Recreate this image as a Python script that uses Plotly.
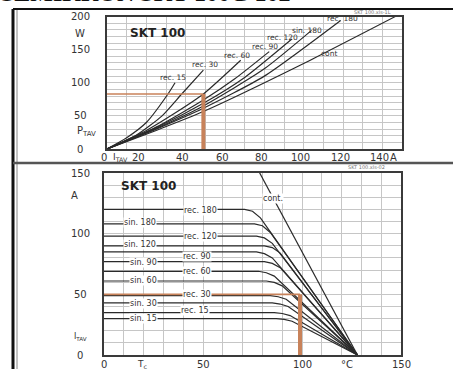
import plotly.graph_objects as go

W, H = 453, 369
def px(x):
    return x / W
def py(y):
    return 1 - y / H

# ---------------- data: top chart (P_TAV vs I_TAV) ----------------
top_x_ticks = [0, 20, 40, 60, 80, 100, 120, 140]
top_y_ticks = [0, 50, 100, 150, 200]

rec15_I = [0, 10, 20, 31, 34.6];        rec15_P = [0, 17, 40, 83, 100]
rec30_I = [0, 15, 28, 38, 49];          rec30_P = [0, 21, 50, 83, 119]
rec60_I = [0, 20, 35, 49, 68];          rec60_P = [0, 28, 55, 83, 134]
rec90_I = [0, 25, 49, 65, 82.5];        rec90_P = [0, 33, 74, 106, 147]
rec120_I = [0, 25, 49, 70, 94];         rec120_P = [0, 32, 69, 108, 166]
sin180_I = [0, 25, 49, 80, 104];        sin180_P = [0, 31, 65, 121, 179]
rec180_I = [0, 25, 49, 80, 118.8];      rec180_P = [0, 30, 61.5, 110, 194]
cont_I = [0, 25, 49, 100, 147.3];       cont_P = [0, 28, 56.5, 129, 201]
top_names = ["rec. 15", "rec. 30", "rec. 60", "rec. 90", "rec. 120", "sin. 180", "rec. 180", "cont"]
top_series = [(rec15_I, rec15_P), (rec30_I, rec30_P), (rec60_I, rec60_P), (rec90_I, rec90_P),
              (rec120_I, rec120_P), (sin180_I, sin180_P), (rec180_I, rec180_P), (cont_I, cont_P)]
top_orange_I = 49
top_orange_P = 83

# ---------------- data: bottom chart (I_TAV vs T_c) ----------------
bot_x_ticks = [0, 50, 100, 150]
bot_y_ticks = [0, 50, 100, 150]

b_rec180_T = [0, 71, 75, 79, 128];  b_rec180_I = [120, 120, 118.5, 113, 0]
b_sin180_T = [0, 76, 80, 84, 128];  b_sin180_I = [108, 108, 106.5, 101, 0]
b_rec120_T = [0, 77, 81, 85, 128];  b_rec120_I = [98, 98, 96.5, 92, 0]
b_sin120_T = [0, 81, 85, 89, 128];  b_sin120_I = [90, 90, 88.5, 84, 0]
b_rec90_T = [0, 77, 81, 85, 128];   b_rec90_I = [85, 85, 83.5, 80, 0]
b_sin90_T = [0, 81, 85, 89, 128];   b_sin90_I = [77, 77, 75.5, 72, 0]
b_rec60_T = [0, 78, 82, 86, 128];   b_rec60_I = [69, 69, 67.8, 65, 0]
b_sin60_T = [0, 82, 86, 90, 128];   b_sin60_I = [61, 61, 59.8, 57, 0]
b_rec30_T = [0, 84, 88, 92, 128];   b_rec30_I = [49, 49, 48, 46, 0]
b_sin30_T = [0, 85, 89, 93, 128];   b_sin30_I = [43, 43, 42, 40, 0]
b_rec15_T = [0, 86, 90, 94, 128];   b_rec15_I = [35, 35, 34.2, 32.5, 0]
b_sin15_T = [0, 87, 91, 95, 128];   b_sin15_I = [30, 30, 29.3, 27.8, 0]
b_cont_T = [77, 128];               b_cont_I = [155, 0]
bot_series = [(b_rec180_T, b_rec180_I), (b_sin180_T, b_sin180_I), (b_rec120_T, b_rec120_I),
              (b_sin120_T, b_sin120_I), (b_rec90_T, b_rec90_I), (b_sin90_T, b_sin90_I),
              (b_rec60_T, b_rec60_I), (b_sin60_T, b_sin60_I), (b_rec30_T, b_rec30_I),
              (b_sin30_T, b_sin30_I), (b_rec15_T, b_rec15_I), (b_sin15_T, b_sin15_I),
              (b_cont_T, b_cont_I)]
bot_orange_T = 99
bot_orange_I = 50

FONT = "DejaVu Sans"
LINE = "#2a2a2a"
ORANGE = "#c8825a"
GRID = "#c6c6c6"

fig = go.Figure()

for xs, ys in top_series:
    fig.add_trace(go.Scatter(x=xs, y=ys, mode="lines", line=dict(color=LINE, width=1.2, shape="spline", smoothing=0.6),
                             xaxis="x", yaxis="y", showlegend=False, hoverinfo="skip"))
fig.add_trace(go.Scatter(x=[-2, top_orange_I], y=[top_orange_P, top_orange_P], mode="lines",
                         line=dict(color=ORANGE, width=1.6), xaxis="x", yaxis="y", showlegend=False, cliponaxis=False))
fig.add_trace(go.Scatter(x=[top_orange_I, top_orange_I], y=[top_orange_P, 0], mode="lines",
                         line=dict(color=ORANGE, width=4), xaxis="x", yaxis="y", showlegend=False))

for xs, ys in bot_series:
    fig.add_trace(go.Scatter(x=xs, y=ys, mode="lines", line=dict(color=LINE, width=1.2),
                             xaxis="x2", yaxis="y2", showlegend=False, hoverinfo="skip"))
fig.add_trace(go.Scatter(x=[0, bot_orange_T], y=[bot_orange_I, bot_orange_I], mode="lines",
                         line=dict(color=ORANGE, width=1.6), xaxis="x2", yaxis="y2", showlegend=False))
fig.add_trace(go.Scatter(x=[bot_orange_T, bot_orange_T], y=[bot_orange_I, 0], mode="lines",
                         line=dict(color=ORANGE, width=4), xaxis="x2", yaxis="y2", showlegend=False))

axis_common = dict(showticklabels=False, ticks="", gridcolor=GRID, gridwidth=1, zeroline=False,
                   showline=True, mirror=True, linecolor="#3a3a3a", linewidth=1.5)

fig.update_layout(
    width=W, height=H, margin=dict(l=0, r=0, t=0, b=0),
    paper_bgcolor="white", plot_bgcolor="white",
    xaxis=dict(domain=[px(107), px(402)], range=[0, 150], tickvals=list(range(0, 151, 10)), anchor="y", **axis_common),
    yaxis=dict(domain=[py(149), py(16.5)], range=[0, 200], tickvals=list(range(0, 201, 10)), anchor="x", **axis_common),
    xaxis2=dict(domain=[px(104), px(401)], range=[0, 150], tickvals=list(range(0, 151, 10)), anchor="y2", **axis_common),
    yaxis2=dict(domain=[py(355), py(173)], range=[0, 150], tickvals=list(range(0, 151, 10)), anchor="x2", **axis_common),
)

ann = []
def txt(x, y, s, size=10, color="#333", xref="paper", yref="paper", bg=None, xanchor="center", bold=False, **kw):
    d = dict(x=x, y=y, xref=xref, yref=yref, text=(f"<b>{s}</b>" if bold else s), showarrow=False,
             font=dict(family=FONT, size=size, color=color), xanchor=xanchor, yanchor="middle", borderpad=0)
    if bg:
        d["bgcolor"] = bg
    d.update(kw)
    ann.append(d)

# top chart tick labels
for v in top_y_ticks:
    txt(px(80), v, str(v), yref="y")
for v in top_x_ticks:
    shift = -3 if v != 20 else -8
    txt(v, py(157), str(v), xref="x", xshift=shift)
txt(px(120), py(157), "I<sub>TAV</sub>", size=9)
txt(px(393), py(157), "A")
txt(px(80), py(33), "W")
txt(px(86), py(131), "P<sub>TAV</sub>", size=10)
txt(px(157), py(33), "SKT 100", size=12, color="#222", bold=True)
txt(px(372), py(12), "SKT 100.xls-1L", size=5, color="#777")

top_label_pos = [(173, 77), (205, 64), (237, 55), (265, 46), (282, 37), (307, 30), (342, 19), (329, 53)]
for name, (x, y) in zip(top_names, top_label_pos):
    txt(px(x), py(y), name, size=7.5)

# bottom chart tick labels
for v in bot_y_ticks:
    txt(px(80), v, str(v), yref="y2")
for v in bot_x_ticks:
    txt(v, py(364), str(v), xref="x2")
txt(px(142), py(364), "T<sub>c</sub>", size=9)
txt(px(347), py(364), "°C")
txt(px(74), py(195), "A")
txt(px(80), py(337), "I<sub>TAV</sub>", size=8)
txt(px(148), py(186), "SKT 100", size=12, color="#222", bold=True)
txt(px(366), py(167), "SKT 100.xls-02", size=5, color="#777")

bot_names = ["rec. 180", "sin. 180", "rec. 120", "sin. 120", "rec. 90", "sin. 90", "rec. 60", "sin. 60",
             "rec. 30", "sin. 30", "rec. 15", "sin. 15", "cont."]
bot_label_pos = [(200, 210), (140, 222), (200, 236), (140, 244), (197, 256), (143, 262), (197, 271),
                 (143, 280), (197, 294), (143, 303), (195, 310), (143, 318), (273, 198)]
for name, (x, y) in zip(bot_names, bot_label_pos):
    txt(px(x), py(y), name, size=8, bg="white")

# cut-off header text
ann.append(dict(x=px(0), y=py(5), xref="paper", yref="paper", text="<b>SEMIKRON SKT 100G 102</b>",
                showarrow=False, xanchor="left", yanchor="bottom",
                font=dict(family="Liberation Serif", size=24, color="#111"), borderpad=0, yshift=-2))

fig.update_layout(annotations=ann)

shapes = [
    dict(type="line", xref="paper", yref="paper", x0=px(13), x1=px(13), y0=py(9), y1=py(369),
         line=dict(color="#111", width=3)),
    dict(type="line", xref="paper", yref="paper", x0=px(17), x1=px(17), y0=py(9), y1=py(369),
         line=dict(color="#888", width=1)),
    dict(type="line", xref="paper", yref="paper", x0=px(13), x1=px(453), y0=py(9), y1=py(9),
         line=dict(color="#111", width=2)),
    dict(type="line", xref="paper", yref="paper", x0=px(13), x1=px(453), y0=py(163), y1=py(163),
         line=dict(color="#555", width=2.5)),
]
fig.update_layout(shapes=shapes)

fig.write_html("out.html", config={"displayModeBar": False},
               post_script="document.body.style.margin='0';document.body.style.overflow='hidden';")
